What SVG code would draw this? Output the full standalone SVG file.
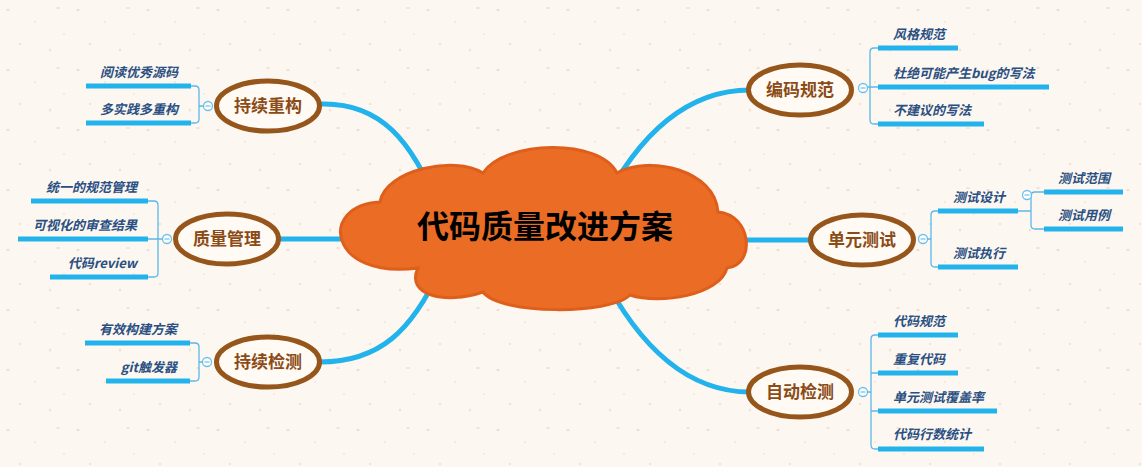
<svg xmlns="http://www.w3.org/2000/svg" width="1142" height="467" viewBox="0 0 1142 467">
<defs>
<pattern id="speck" width="70" height="60" patternUnits="userSpaceOnUse">
<ellipse cx="8" cy="10" rx="1.6" ry="0.9" fill="#f2d8c8"/>
<ellipse cx="35" cy="22" rx="1.2" ry="0.8" fill="#f0dccd"/>
<ellipse cx="58" cy="8" rx="1.8" ry="1" fill="#f3e0d0"/>
<ellipse cx="20" cy="44" rx="1.4" ry="0.8" fill="#f2d6c6"/>
<ellipse cx="50" cy="50" rx="1" ry="1.6" fill="#f1ddce"/>
<ellipse cx="64" cy="34" rx="1.3" ry="0.7" fill="#f4e2d4"/>
</pattern>
<style>
.conn{fill:none;stroke:#22b3ec;stroke-width:5;stroke-linecap:round}
.bar{stroke:#22b3ec;stroke-width:5}
.br{fill:none;stroke:#5bb8e8;stroke-width:1.3}
.tog{fill:#ffffff;stroke:#6cc0ea;stroke-width:1.3}
.togm{stroke:#6cc0ea;stroke-width:1.2}
.node ellipse{fill:#fffaf3;stroke:#96561b;stroke-width:5}
.nt{font-family:"Noto Sans CJK SC","Liberation Sans",sans-serif;font-size:17px;font-weight:bold;fill:#8a4b16;text-anchor:middle}
.st{font-family:"Noto Sans CJK SC","Liberation Sans",sans-serif;font-size:13px;font-weight:bold;font-style:italic;fill:#2a4f82}
.end{text-anchor:end}
</style>
</defs>
<rect width="1142" height="467" fill="#fcf7f0"/>
<rect width="1142" height="467" fill="url(#speck)"/>

<g id="connectors">
<path class="conn" d="M 320 104 C 380 102, 412 140, 440 210"/>
<path class="conn" d="M 280 239 H 380"/>
<path class="conn" d="M 320 362 C 380 362, 412 330, 440 270"/>
<path class="conn" d="M 600 210 C 640 130, 690 90, 750 90"/>
<path class="conn" d="M 700 240 H 810"/>
<path class="conn" d="M 600 270 C 640 350, 690 392, 750 392"/>
</g>

<g id="center">
<path d="M 380 202 C 385 170, 455 155, 483 173 C 505 140, 600 138, 617 173 C 650 155, 715 170, 718 212 C 752 215, 756 265, 727 268 C 720 295, 660 305, 630 295 C 610 315, 500 315, 483 292 C 445 305, 405 295, 418 268 C 328 280, 318 205, 380 202 Z" fill="#eb6d25" stroke="#de5f1b" stroke-width="3"/>
<text x="545" y="238" font-family="'Noto Sans CJK SC','Liberation Sans',sans-serif" font-size="32" font-weight="bold" fill="#000" text-anchor="middle">代码质量改进方案</text>
</g>

<g id="n-chixuchonggou" class="node">
<ellipse cx="268" cy="106" rx="51.5" ry="25"/>
<text class="nt" x="268" y="112">持续重构</text>
<circle class="tog" cx="208" cy="106" r="4.5"/><line class="togm" x1="205.5" y1="106" x2="210.5" y2="106"/>
<path class="br" d="M 191 86 H 195 Q 199 86 199 90 V 119 Q 199 123 195 123 H 191 M 199 106 H 203.5"/>
<line class="bar" x1="86" y1="86" x2="191" y2="86"/>
<line class="bar" x1="86" y1="123" x2="191" y2="123"/>
<text class="st end" x="178" y="77">阅读优秀源码</text>
<text class="st end" x="178" y="114">多实践多重构</text>
</g>

<g id="n-zhiliangguanli" class="node">
<ellipse cx="227" cy="239" rx="51.5" ry="25"/>
<text class="nt" x="227" y="245">质量管理</text>
<circle class="tog" cx="167" cy="239" r="4.5"/><line class="togm" x1="164.5" y1="239" x2="169.5" y2="239"/>
<path class="br" d="M 148 201 H 154 Q 158 201 158 205 V 273 Q 158 277 154 277 H 148 M 148 239 H 162.5"/>
<line class="bar" x1="31" y1="201" x2="148" y2="201"/>
<line class="bar" x1="18" y1="239" x2="148" y2="239"/>
<line class="bar" x1="50" y1="277" x2="148" y2="277"/>
<text class="st end" x="137" y="192">统一的规范管理</text>
<text class="st end" x="137" y="230">可视化的审查结果</text>
<text class="st end" x="137" y="268">代码review</text>
</g>

<g id="n-chixujiance" class="node">
<ellipse cx="268" cy="362" rx="51.5" ry="25"/>
<text class="nt" x="268" y="368">持续检测</text>
<circle class="tog" cx="207" cy="362" r="4.5"/><line class="togm" x1="204.5" y1="362" x2="209.5" y2="362"/>
<path class="br" d="M 190 343 H 195 Q 199 343 199 347 V 377 Q 199 381 195 381 H 190 M 199 362 H 202.5"/>
<line class="bar" x1="85" y1="343" x2="190" y2="343"/>
<line class="bar" x1="106" y1="381" x2="190" y2="381"/>
<text class="st end" x="177" y="334">有效构建方案</text>
<text class="st end" x="177" y="372">git触发器</text>
</g>

<g id="n-bianmaguifan" class="node">
<ellipse cx="800" cy="90" rx="51.5" ry="25"/>
<text class="nt" x="800" y="96">编码规范</text>
<circle class="tog" cx="863" cy="88" r="4.5"/><line class="togm" x1="860.5" y1="88" x2="865.5" y2="88"/>
<path class="br" d="M 878 48 H 874 Q 870 48 870 52 V 120 Q 870 124 874 124 H 878 M 867.5 87 H 878"/>
<line class="bar" x1="878" y1="48" x2="958" y2="48"/>
<line class="bar" x1="878" y1="87" x2="1049" y2="87"/>
<line class="bar" x1="878" y1="124" x2="984" y2="124"/>
<text class="st" x="893" y="39">风格规范</text>
<text class="st" x="893" y="78">杜绝可能产生bug的写法</text>
<text class="st" x="893" y="115">不建议的写法</text>
</g>

<g id="n-danyuanceshi" class="node">
<ellipse cx="862" cy="240" rx="51.5" ry="25"/>
<text class="nt" x="862" y="246">单元测试</text>
<circle class="tog" cx="923" cy="239" r="4.5"/><line class="togm" x1="920.5" y1="239" x2="925.5" y2="239"/>
<path class="br" d="M 938 211 H 935 Q 931 211 931 215 V 263 Q 931 267 935 267 H 938 M 927.5 239 H 931"/>
<line class="bar" x1="938" y1="211" x2="1018" y2="211"/>
<line class="bar" x1="938" y1="267" x2="1018" y2="267"/>
<text class="st" x="953" y="202">测试设计</text>
<text class="st" x="953" y="258">测试执行</text>
<path class="br" d="M 1018 211 H 1031 M 1044 192 H 1035 Q 1031 192 1031 196 V 225 Q 1031 229 1035 229 H 1044"/>
<circle class="tog" cx="1027" cy="195" r="4.5"/><line class="togm" x1="1024.5" y1="195" x2="1029.5" y2="195"/>
<line class="bar" x1="1044" y1="192" x2="1123" y2="192"/>
<line class="bar" x1="1044" y1="229" x2="1123" y2="229"/>
<text class="st" x="1058" y="183">测试范围</text>
<text class="st" x="1058" y="220">测试用例</text>
</g>

<g id="n-zidongjiance" class="node">
<ellipse cx="800" cy="392" rx="51.5" ry="25"/>
<text class="nt" x="800" y="398">自动检测</text>
<circle class="tog" cx="863" cy="392" r="4.5"/><line class="togm" x1="860.5" y1="392" x2="865.5" y2="392"/>
<path class="br" d="M 878 335 H 875 Q 871 335 871 339 V 445 Q 871 449 875 449 H 878 M 871 373 H 878 M 871 411 H 878 M 867.5 392 H 871"/>
<line class="bar" x1="878" y1="335" x2="958" y2="335"/>
<line class="bar" x1="878" y1="373" x2="958" y2="373"/>
<line class="bar" x1="878" y1="411" x2="997" y2="411"/>
<line class="bar" x1="878" y1="449" x2="984" y2="449"/>
<text class="st" x="893" y="326">代码规范</text>
<text class="st" x="893" y="364">重复代码</text>
<text class="st" x="893" y="402">单元测试覆盖率</text>
<text class="st" x="893" y="439">代码行数统计</text>
</g>
</svg>
